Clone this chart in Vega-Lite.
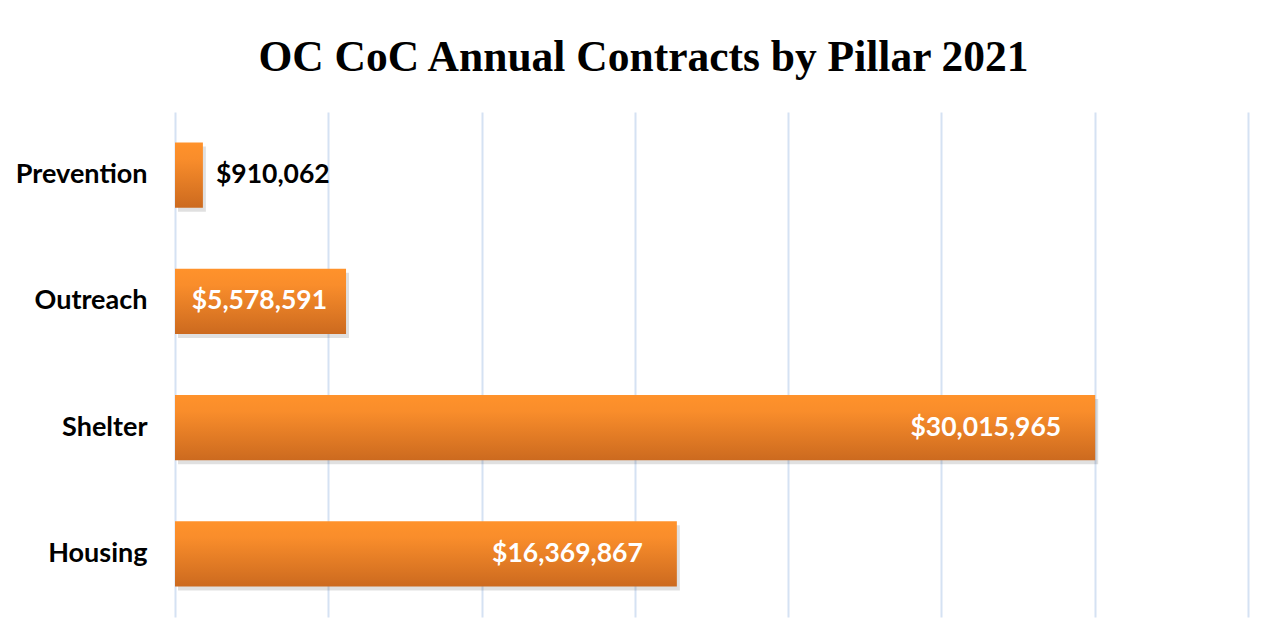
{
  "$schema": "https://vega.github.io/schema/vega-lite/v6.json",
  "autosize": "none",
  "padding": {"left": 175, "top": 112, "right": 28, "bottom": 21},
  "width": 1073,
  "height": 505,
  "background": "white",
  "title": {
    "text": "OC CoC Annual Contracts by Pillar 2021",
    "font": "Liberation Serif",
    "fontWeight": "bold",
    "fontSize": 43.5,
    "color": "#000000",
    "anchor": "middle",
    "baseline": "alphabetic",
    "offset": -2,
    "dx": -68
  },
  "config": {"view": {"stroke": null}},
  "data": {
    "values": [
      {"pillar": "Prevention", "value": 910062},
      {"pillar": "Outreach", "value": 5578591},
      {"pillar": "Shelter", "value": 30015965},
      {"pillar": "Housing", "value": 16369867}
    ]
  },
  "encoding": {
    "y": {
      "field": "pillar",
      "type": "nominal",
      "sort": null,
      "scale": {"paddingInner": 0.485, "paddingOuter": 0.2425},
      "axis": {
        "title": null,
        "ticks": false,
        "domain": false,
        "labelFont": "Lato",
        "labelFontWeight": "bold",
        "labelFontSize": 27,
        "labelColor": "#000000",
        "labelPadding": 28
      }
    },
    "x": {
      "field": "value",
      "type": "quantitative",
      "scale": {"domain": [0, 35000000], "nice": false},
      "axis": {
        "title": null,
        "values": [0, 5000000, 10000000, 15000000, 20000000, 25000000, 30000000, 35000000],
        "labels": false,
        "ticks": false,
        "domain": false,
        "grid": true,
        "gridColor": "#D5E2F3",
        "gridWidth": 2
      }
    }
  },
  "layer": [
    {
      "mark": {"type": "bar", "color": "#000000", "opacity": 0.12, "xOffset": 3, "yOffset": 4}
    },
    {
      "mark": {
        "type": "bar",
        "color": {
          "gradient": "linear",
          "x1": 0, "y1": 0, "x2": 0, "y2": 1,
          "stops": [
            {"offset": 0, "color": "#FF922B"},
            {"offset": 0.25, "color": "#F98D2B"},
            {"offset": 1, "color": "#CC6A1F"}
          ]
        }
      }
    },
    {
      "transform": [{"filter": "datum.value < 2000000"}],
      "mark": {"type": "text", "align": "left", "dx": 13, "font": "Lato", "fontWeight": "bold", "fontSize": 26.5, "color": "#000000"},
      "encoding": {"text": {"field": "value", "type": "quantitative", "format": "$,.0f"}}
    },
    {
      "transform": [{"filter": "datum.value >= 2000000 && datum.value < 10000000"}],
      "mark": {"type": "text", "align": "right", "dx": -19, "font": "Lato", "fontWeight": "bold", "fontSize": 26.5, "color": "#FFFFFF"},
      "encoding": {"text": {"field": "value", "type": "quantitative", "format": "$,.0f"}}
    },
    {
      "transform": [{"filter": "datum.value >= 10000000"}],
      "mark": {"type": "text", "align": "right", "dx": -34, "font": "Lato", "fontWeight": "bold", "fontSize": 26.5, "color": "#FFFFFF"},
      "encoding": {"text": {"field": "value", "type": "quantitative", "format": "$,.0f"}}
    }
  ]
}
